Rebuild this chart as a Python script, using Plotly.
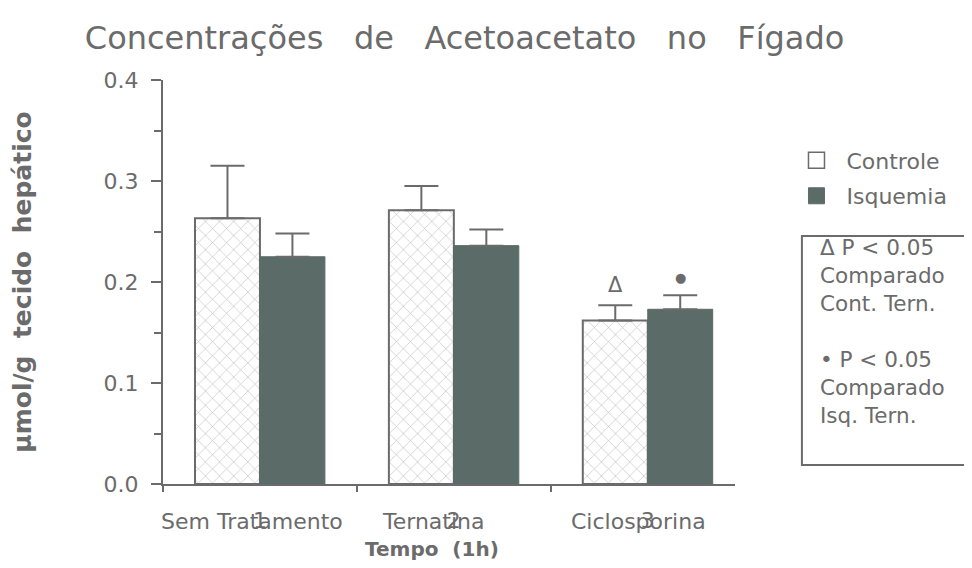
import plotly.graph_objects as go

# data
groups = [1, 2, 3]
group_labels = ["1", "2", "3"]
treatments = ["Sem Tratamento", "Ternatina", "Ciclosporina"]
controle = [0.263, 0.271, 0.162]
controle_err = [0.052, 0.024, 0.015]
isquemia = [0.225, 0.236, 0.173]
isquemia_err = [0.023, 0.016, 0.014]
y_ticks = [0.0, 0.1, 0.2, 0.3, 0.4]

gray = "#6b6b6b"
dark = "#5b6b67"
font = "DejaVu Sans"

fig = go.Figure()

fig.add_trace(go.Bar(
    x=groups, y=controle, name="Controle", showlegend=False,
    marker=dict(color="white", line=dict(color=gray, width=2),
                pattern=dict(shape="x", size=10, solidity=0.12, fgcolor="#7a7a7a", bgcolor="white")),
    error_y=dict(type="data", symmetric=False, array=controle_err,
                 arrayminus=[0] * 3, color=gray, thickness=2, width=17),
))
fig.add_trace(go.Bar(
    x=groups, y=isquemia, name="Isquemia", showlegend=False,
    marker=dict(color=dark, line=dict(color=dark, width=1)),
    error_y=dict(type="data", symmetric=False, array=isquemia_err,
                 arrayminus=[0] * 3, color=gray, thickness=2, width=17),
))
# bigger square legend keys
fig.add_trace(go.Scatter(x=[None], y=[None], mode="markers", name="Controle", legendgroup="c",
                         marker=dict(symbol="square", size=19, color="white",
                                     line=dict(color=gray, width=1.5))))
fig.add_trace(go.Scatter(x=[None], y=[None], mode="markers", name="Isquemia", legendgroup="i",
                         marker=dict(symbol="square", size=19, color=dark,
                                     line=dict(color=dark, width=1))))

# significance marks over the Ciclosporina bars
fig.add_annotation(x=3, y=controle[2] + controle_err[2], xshift=-32, yshift=6,
                   text="Δ", showarrow=False, yanchor="bottom",
                   font=dict(family=font, size=21, color=gray))
fig.add_annotation(x=3, y=isquemia[2] + isquemia_err[2], xshift=33, yshift=8,
                   text="●", showarrow=False, yanchor="bottom",
                   font=dict(family=font, size=13, color=gray))

# treatment names overprinted on the numeric tick labels
name_shift = [-8, -21, -9]
for g, t, s in zip(groups, treatments, name_shift):
    fig.add_annotation(x=g, y=0, yref="y", xshift=s, yshift=-37, text=t,
                       showarrow=False, yanchor="middle",
                       font=dict(family=font, size=22, color=gray))

fig.add_annotation(x=0.470, y=-0.161, xref="paper", yref="paper", text="<b>Tempo  (1h)</b>",
                   showarrow=False, xanchor="center", yanchor="middle",
                   font=dict(family=font, size=20, color=gray))

# significance note box
fig.add_shape(type="rect", xref="paper", yref="paper", x0=1.117, x1=1.404, y0=0.047, y1=0.614,
              line=dict(color=gray, width=2), fillcolor="white")
note = ("Δ P &lt; 0.05<br>Comparado<br>Cont. Tern.<br> <br>"
        "• P &lt; 0.05<br>Comparado<br>Isq. Tern.")
fig.add_annotation(xref="paper", yref="paper", x=1.145, y=0.378, xanchor="left", yanchor="middle",
                   text=note, align="left", showarrow=False,
                   font=dict(family=font, size=21.5, color=gray))

fig.update_layout(
    width=972, height=568,
    margin=dict(l=155, r=245, t=72, b=92, autoexpand=False),
    paper_bgcolor="white", plot_bgcolor="white",
    barmode="group", bargap=0.33, bargroupgap=0,
    showlegend=True,
    title=dict(text="Concentrações   de   Acetoacetato   no   Fígado", x=0.079, xanchor="left",
               y=0.947, yanchor="middle", font=dict(family=font, size=32, color=gray)),
    legend=dict(x=1.09, y=0.853, xanchor="left", yanchor="top",
                font=dict(family=font, size=22, color=gray), itemwidth=50, tracegroupgap=4),
    font=dict(family=font, color=gray),
)

fig.update_xaxes(range=[0.5, 3.45], tickvals=groups, ticktext=group_labels,
                 ticks="", showline=True, linecolor=gray, linewidth=2,
                 showgrid=False, zeroline=False, ticklabelstandoff=16,
                 tickfont=dict(family=font, size=22, color=gray),
                 minor=dict(tick0=0.5, dtick=1, ticks="outside", ticklen=6,
                            tickcolor=gray, tickwidth=2))
fig.update_yaxes(range=[0, 0.4], tickvals=y_ticks, tickformat=".1f",
                 ticks="outside", ticklen=10, tickcolor=gray, tickwidth=2,
                 showline=True, linecolor=gray, linewidth=2, showgrid=False, zeroline=False,
                 ticklabelstandoff=8,
                 tickfont=dict(family=font, size=22, color=gray),
                 minor=dict(dtick=0.05, ticks="outside", ticklen=7, tickcolor=gray, tickwidth=2),
                 title=dict(text="<b>µmol/g  tecido  hepático</b>", standoff=68,
                            font=dict(family=font, size=25, color=gray)))

fig.write_html("out.html")
